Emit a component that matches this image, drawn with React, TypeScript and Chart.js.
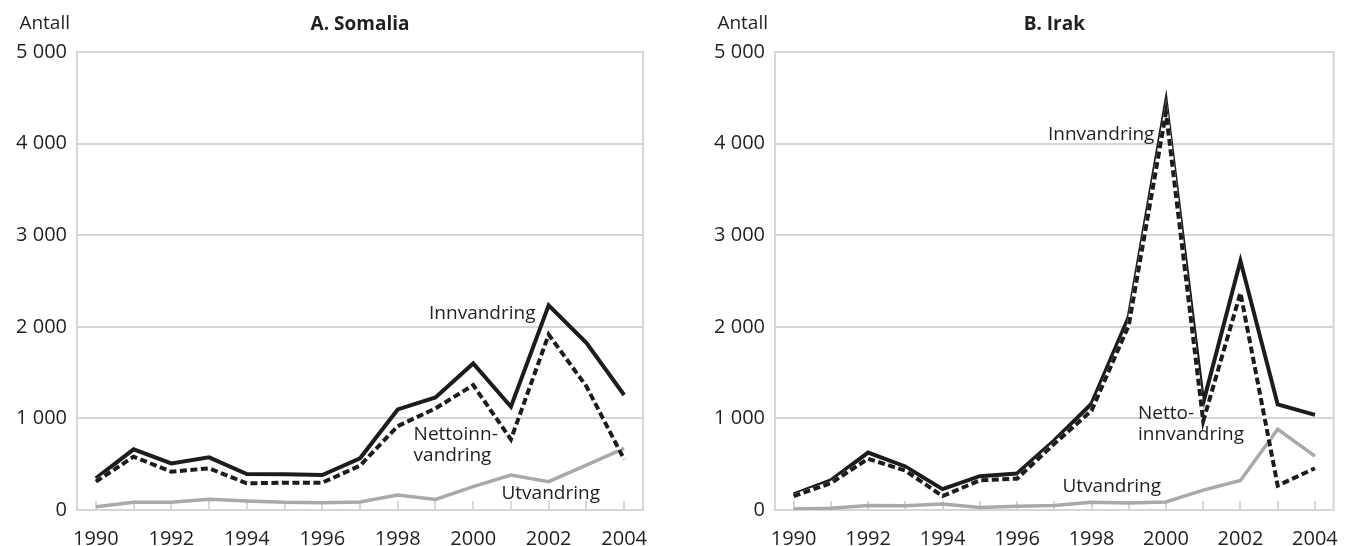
import React, { useEffect, useRef } from "react";
import { Chart, registerables } from "chart.js";

Chart.register(...registerables);

// ---------- data ----------
const years = ["1990", "1991", "1992", "1993", "1994", "1995", "1996", "1997", "1998", "1999", "2000", "2001", "2002", "2003", "2004"];
const yTickValues = [0, 1000, 2000, 3000, 4000, 5000];

const somaliaInnvandring = [345, 662, 509, 575, 393, 389, 382, 564, 1098, 1229, 1600, 1127, 2235, 1825, 1255];
const somaliaNetto = [309, 582, 418, 455, 291, 298, 298, 484, 916, 1109, 1364, 771, 1915, 1350, 553];
const somaliaUtvandring = [36, 84, 84, 116, 98, 84, 80, 87, 164, 116, 255, 382, 309, 491, 673];

const irakInnvandring = [171, 323, 627, 475, 228, 369, 399, 760, 1160, 2110, 4450, 1170, 2720, 1152, 1038];
const irakNetto = [152, 293, 559, 430, 152, 323, 342, 722, 1084, 2015, 4340, 970, 2370, 266, 456];
const irakUtvandring = [10, 19, 49, 46, 65, 27, 42, 49, 84, 76, 87, 217, 323, 882, 589];

const seriesNames = ["Nettoinnvandring", "Innvandring", "Utvandring"];

// annotation texts (anchor given in data units: year index, value)
type Note = { lines: string[]; x: number; y: number };
const somaliaNotes: Note[] = [
  { lines: ["Innvandring"], x: 8.83, y: 2145 },
  { lines: ["Nettoinn-", "vandring"], x: 8.42, y: 818 },
  { lines: ["Utvandring"], x: 10.75, y: 175 },
];
const irakNotes: Note[] = [
  { lines: ["Innvandring"], x: 6.83, y: 4100 },
  { lines: ["Netto-", "innvandring"], x: 9.25, y: 1055 },
  { lines: ["Utvandring"], x: 7.22, y: 255 },
];

// ---------- styles ----------
const FONT = "'Open Sans', 'Noto Sans', sans-serif";
const TEXT = "#231f20";
const GRID = "#d6d6d6";
const BLACK = "#1c1c1c";
const GREY = "#a7a9ac";

const fmt = (v: number) => String(v).replace(/\B(?=(\d{3})+(?!\d))/g, " ");

const decorPlugin = {
  id: "decor",
  beforeDatasetsDraw(chart: any) {
    const { ctx, chartArea: a, scales } = chart;
    ctx.save();
    ctx.strokeStyle = GRID;
    ctx.lineWidth = 2;
    ctx.strokeRect(a.left, a.top, a.right - a.left, a.bottom - a.top);
    const xs = scales.x;
    for (let i = 0; i < years.length; i++) {
      const px = Math.round(xs.getPixelForValue(i));
      ctx.beginPath();
      ctx.moveTo(px, a.bottom);
      ctx.lineTo(px, a.bottom - 9);
      ctx.stroke();
    }
    ctx.restore();
  },
  afterDraw(chart: any, _args: any, opts: any) {
    const { ctx, chartArea: a, scales } = chart;
    ctx.save();
    ctx.fillStyle = TEXT;
    ctx.textBaseline = "middle";
    // y unit label
    ctx.font = `19px ${FONT}`;
    ctx.textAlign = "right";
    ctx.fillText("Antall", a.left - 7, 24);
    // title
    ctx.font = `bold 19px ${FONT}`;
    ctx.textAlign = "center";
    ctx.fillText(opts.title, (a.left + a.right) / 2, 25);
    // notes
    ctx.font = `19px ${FONT}`;
    ctx.textAlign = "left";
    const notes: Note[] = opts.notes || [];
    for (const n of notes) {
      const px = scales.x.getPixelForValue(n.x);
      const py = scales.y.getPixelForValue(n.y);
      n.lines.forEach((line, i) => ctx.fillText(line, px, py + i * 21));
    }
    ctx.restore();
  },
};

type PanelProps = {
  title: string;
  inn: number[];
  netto: number[];
  ut: number[];
  notes: Note[];
  axisWidth: number;
  padRight: number;
};

function Panel({ title, inn, netto, ut, notes, axisWidth, padRight }: PanelProps) {
  const ref = useRef<HTMLCanvasElement | null>(null);
  useEffect(() => {
    if (!ref.current) return;
    const common = {
      pointRadius: 0,
      pointHoverRadius: 0,
      tension: 0,
      fill: false,
      borderJoinStyle: "miter" as const,
      borderCapStyle: "butt" as const,
    };
    const chart = new Chart(ref.current, {
      type: "line",
      data: {
        labels: years,
        datasets: [
          { ...common, label: seriesNames[0], data: netto, borderColor: BLACK, borderWidth: 4, borderDash: [7, 3.5] },
          { ...common, label: seriesNames[0] + " (bakgrunn)", data: netto, borderColor: "#ffffff", borderWidth: 4 },
          { ...common, label: seriesNames[1], data: inn, borderColor: BLACK, borderWidth: 4 },
          { ...common, label: seriesNames[2], data: ut, borderColor: GREY, borderWidth: 3.5 },
        ],
      },
      options: {
        animation: false,
        responsive: true,
        maintainAspectRatio: false,
        layout: { padding: { top: 52, right: padRight, bottom: 0, left: 0 } },
        plugins: {
          legend: { display: false },
          tooltip: { enabled: false },
          decor: { title, notes },
        } as any,
        scales: {
          x: {
            type: "category",
            offset: true,
            grid: { display: false },
            border: { display: false },
            ticks: {
              autoSkip: false,
              maxRotation: 0,
              minRotation: 0,
              padding: 9,
              color: TEXT,
              font: { family: FONT, size: 20 },
              callback: (_v: any, i: number) => (i % 2 === 0 ? years[i] : ""),
            },
            afterFit: (s: any) => {
              s.height = 36;
            },
          },
          y: {
            min: 0,
            max: 5000,
            afterBuildTicks: (s: any) => {
              s.ticks = yTickValues.map((v) => ({ value: v }));
            },
            grid: { color: GRID, lineWidth: 2, drawTicks: false },
            border: { display: false },
            ticks: {
              padding: 10,
              color: TEXT,
              font: { family: FONT, size: 20 },
              callback: (v: any) => fmt(Number(v)),
            },
            afterFit: (s: any) => {
              s.width = axisWidth;
            },
          },
        },
      },
      plugins: [decorPlugin as any],
    });
    return () => chart.destroy();
  }, []);
  return <canvas ref={ref} />;
}

export default function App() {
  return (
    <div style={{ position: "fixed", left: 0, top: 0, width: 1347, height: 546, background: "#fff" }}>
      <div style={{ position: "absolute", left: 0, top: 0, width: 662, height: 546 }}>
        <Panel title="A. Somalia" inn={somaliaInnvandring} netto={somaliaNetto} ut={somaliaUtvandring} notes={somaliaNotes} axisWidth={77} padRight={19} />
      </div>
      <div style={{ position: "absolute", left: 680, top: 0, width: 667, height: 546 }}>
        <Panel title="B. Irak" inn={irakInnvandring} netto={irakNetto} ut={irakUtvandring} notes={irakNotes} axisWidth={95} padRight={6} />
      </div>
    </div>
  );
}
